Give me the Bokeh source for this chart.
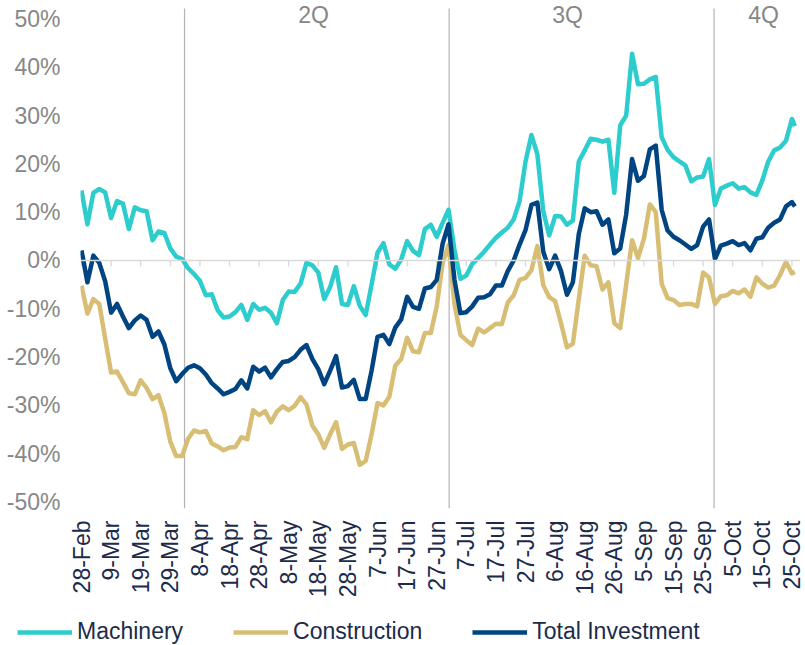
import math
from bokeh.plotting import figure
from bokeh.layouts import column, row
from bokeh.models import Range1d, FixedTicker, Span, Label, Legend, LegendItem
from bokeh.embed import file_html
from bokeh.resources import INLINE

# ---------------- data ----------------
# day offsets from 28-Feb (2020), sampled every 2 days
days = list(range(0, 241, 2)) + [241]

machinery = [
    14.5, 7.5, 14, 14.8, 14.1, 8.8, 12.3, 11.8, 6.5, 11,
    10.4, 10.2, 4.2, 6, 5.7, 2.5, 0.8, 0.3, -1.6, -2.8,
    -4.2, -7.2, -7, -10.3, -11.8, -11.6, -10.7, -9.2, -12.3, -9,
    -10.2, -9.8, -10.8, -13, -8.2, -6.4, -6.5, -4.8, -0.5, -1,
    -2.5, -8, -5.5, -1.4, -9, -9.2, -5.3, -9.4, -11.3, -5,
    1.6, 3.6, -0.8, -1.7, 0.2, 4, 2, 1.1, 6.5, 7.4,
    4.9, 7.8, 10.5, 2.2, -3.8, -3.1, -0.7, 0.5, 1.8, 3.3,
    4.7, 5.8, 6.8, 8.5, 12.3, 20.5, 26, 22, 10.2, 5.2,
    9.2, 9.1, 7.4, 8.3, 20.5, 22.8, 25.2, 25, 24.6, 25,
    14, 28, 30, 42.8, 36.5, 36.6, 37.5, 38, 25.5, 22.9,
    21.4, 20.5, 19.7, 16.4, 17.2, 17.4, 21, 11.5, 14.9, 15.5,
    16, 14.9, 15.2, 14.1, 13.6, 16.6, 20.5, 22.8, 23.4, 24.8,
    29.3, 27.8,
]

construction = [
    -5.2, -11, -8, -9, -16.2, -23.2, -23, -25.2, -27.5, -27.7,
    -24.8, -26.4, -28.7, -27.9, -31.6, -37.5, -40.5, -40.5, -36.9, -35.2,
    -35.6, -35.3, -37.9, -38.5, -39.3, -38.7, -38.6, -36.6, -37, -31,
    -32, -31.2, -33.5, -31.3, -30.2, -31, -30.1, -28.3, -29.8, -34.2,
    -36, -38.8, -36, -33.5, -39, -38.1, -37.8, -42.3, -41.5, -36,
    -29.5, -30, -28.2, -21.8, -20.4, -16, -18.8, -19, -15, -15,
    -9.5, -0.5, 3.2, -9, -15.4, -16.5, -17.5, -14.1, -14.9, -14,
    -13.1, -13.2, -8.7, -7.2, -4, -3.6, -2, 3, -5.1, -7.6,
    -8.4, -13, -18, -17.2, -8, 1, -1, -1.2, -6, -4.5,
    -13, -14, -5, 4.2, 0.5, 4.5, 11.6, 10, -4.8, -7.8,
    -8.2, -9.2, -9, -9, -9.5, -2.5, -3.5, -9, -7.4, -7.2,
    -6.3, -6.8, -6, -7.5, -3.5, -4.8, -5.6, -5.2, -3, -0.3,
    -2.7, -2.4,
]

total_investment = [
    2.1, -4.5, 1.0, -0.5, -4.3, -10.8, -9, -11.6, -14, -12.4,
    -11.4, -12.3, -15.8, -14.7, -17.4, -22.3, -25, -23.5, -22.2, -21.7,
    -22.3, -23.6, -25.4, -26.5, -27.7, -27.2, -26.6, -24.8, -26.5, -22,
    -23, -22.2, -24.2, -22.5, -21, -20.8, -20, -18.5, -17.5, -20.4,
    -22.5, -25.6, -22.8, -19.8, -26.3, -26, -24.7, -28.7, -28.7, -22.8,
    -15.8, -15.4, -17.3, -13.9, -12.2, -7.5, -9.6, -10, -5.8, -5.5,
    -4, 3.5, 7.5, -4, -10.9, -10.7, -9.5, -7.7, -7.6, -7,
    -5.2, -5.2, -2.2, 0, 3.3, 6.3, 11.5, 12, 1.8, -1.8,
    1, -2.2, -7.1, -4.5, 5.5, 10.8, 10, 10.2, 7.4, 8.5,
    1.5, 2.5, 9.5, 21, 16.5, 17.5, 23, 23.8, 10.5, 6.2,
    4.9, 4.2, 3.3, 2.4, 3.2, 7, 8.5, 0.3, 3.1, 3.5,
    4, 3.2, 3.6, 2.1, 4.5, 4.8, 6.8, 7.8, 8.5, 11.2,
    12.1, 11.2,
]

tick_days = list(range(0, 241, 10))
tick_labels = ["28-Feb", "9-Mar", "19-Mar", "29-Mar", "8-Apr", "18-Apr", "28-Apr",
               "8-May", "18-May", "28-May", "7-Jun", "17-Jun", "27-Jun", "7-Jul",
               "17-Jul", "27-Jul", "6-Aug", "16-Aug", "26-Aug", "5-Sep", "15-Sep",
               "25-Sep", "5-Oct", "15-Oct", "25-Oct"]
y_ticks = [-50, -40, -30, -20, -10, 0, 10, 20, 30, 40, 50]

quarter_lines = [34.8, 124.2, 213.7]
quarter_names = ["2Q", "3Q", "4Q"]
quarter_label_x = [78.4, 164.2, 230.4]

series_names = ["Machinery", "Construction", "Total Investment"]
series_colors = ["#2DCCCD", "#D8BE75", "#004481"]
series_values = [machinery, construction, total_investment]

# ---------------- figure ----------------
FONT = "Liberation Sans"
NAVY_TXT = "#1C2B4A"
GRAY_TXT = "#878787"

Y_LO, Y_HI = -51.35, 53.83
LINE_TOP = 52.17

p = figure(width=805, height=600, output_backend="svg", toolbar_location=None,
           x_range=Range1d(-0.34, 242.9), y_range=Range1d(Y_LO, Y_HI),
           min_border_left=80, min_border_right=5, min_border_top=0,
           min_border_bottom=92)
p.outline_line_color = None
p.xgrid.visible = False
p.ygrid.visible = False
p.background_fill_color = "white"
p.border_fill_color = "white"

xa = p.xaxis[0]
xa.ticker = FixedTicker(ticks=tick_days)
xa.major_label_overrides = {d: lab for d, lab in zip(tick_days, tick_labels)}
xa.axis_line_color = None
xa.major_tick_line_color = None
xa.minor_tick_line_color = None
xa.major_tick_in = 0
xa.major_tick_out = 0
xa.major_label_orientation = math.pi / 2
xa.major_label_standoff = 12
xa.major_label_text_font = FONT
xa.major_label_text_font_size = "23px"
xa.major_label_text_color = NAVY_TXT

ya = p.yaxis[0]
ya.ticker = FixedTicker(ticks=y_ticks)
ya.major_label_overrides = {v: f"{v}%" for v in y_ticks}
ya.axis_line_color = None
ya.major_tick_line_color = None
ya.minor_tick_line_color = None
ya.major_tick_in = 0
ya.major_tick_out = 0
ya.major_label_standoff = 20
ya.major_label_text_font = FONT
ya.major_label_text_font_size = "23px"
ya.major_label_text_color = GRAY_TXT

# zero line with small tick marks
p.add_layout(Span(location=0, dimension="width", line_color="#D9D9D9", line_width=1.5))
p.segment(x0=tick_days, y0=[0] * len(tick_days), x1=tick_days,
          y1=[-1.25] * len(tick_days), line_color="#D9D9D9", line_width=1.3)

# quarter separators and labels
p.segment(x0=quarter_lines, y0=[Y_LO] * len(quarter_lines), x1=quarter_lines,
          y1=[LINE_TOP] * len(quarter_lines), line_color="#B3B3B3", line_width=1.2)
for name, lx in zip(quarter_names, quarter_label_x):
    p.add_layout(Label(x=lx, y=50.9, text=name, text_align="center", text_baseline="middle",
                       text_font=FONT, text_font_size="23px", text_color=GRAY_TXT))

for vals, col in zip(series_values, series_colors):
    p.line(days, vals, line_color=col, line_width=4.5, line_join="round")

# ---------------- legend strip ----------------
# the same series are attached here only so the legend has real glyphs;
# the strip's ranges keep them out of view
lg = figure(width=805, height=45, output_backend="svg", toolbar_location=None,
            x_range=Range1d(-30, -20), y_range=Range1d(-30, -20),
            x_axis_location=None, y_axis_location=None,
            min_border_left=0, min_border_right=0, min_border_top=0, min_border_bottom=0)
lg.outline_line_color = None
lg.xgrid.visible = False
lg.ygrid.visible = False
lg_items = []
for n, vals, col in zip(series_names, series_values, series_colors):
    r = lg.line(days, vals, line_color=col, line_width=4.5)
    lg_items.append(LegendItem(label=n, renderers=[r]))

legend = Legend(items=lg_items, orientation="horizontal", location=(17, 0),
                glyph_width=55, glyph_height=20, label_standoff=5, spacing=50,
                padding=0, margin=0, border_line_color=None, background_fill_alpha=0,
                label_text_font=FONT, label_text_font_size="23px",
                label_text_color=NAVY_TXT)
lg.add_layout(legend)

layout = column(p, row(lg, spacing=0), spacing=0)
open("out.html", "w").write(file_html(layout, INLINE))
